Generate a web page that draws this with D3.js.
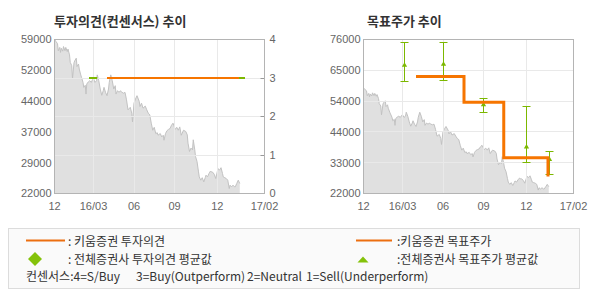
<!DOCTYPE html>
<html>
<head>
<meta charset="utf-8">
<script src="https://cdn.jsdelivr.net/npm/d3@7"></script>
<style>
  body { margin: 0; background: #fff; }
  svg text { font-family: "Liberation Sans", Arial, sans-serif; }
  svg .kr { font-family: "Noto Sans CJK KR", sans-serif; }
</style>
</head>
<body>
<svg id="chart" width="590" height="300"></svg>
<script>
"use strict";

// x is a trading-day index, Dec 2015 -> Feb 2017
const x_ticks = [0, 52, 106, 160, 217, 280];
const x_tick_labels = ["12", "16/03", "06", "09", "12", "17/02"];

const left_price_ticks = [22000, 29400, 36800, 44200, 51600, 59000];
const right_price_ticks = [22000, 32800, 43600, 54400, 65200, 76000];
const opinion_ticks = [0, 1, 2, 3, 4];

// [day, close]
const price = [[0,59000],[2,58500],[4,58000],[5,56300],[7,57100],[8,55900],[9,56900],[11,56200],[12,57300],
  [14,56300],[15,57100],[17,56100],[18,56700],[20,55300],[21,53500],[23,52700],[24,49600],[26,53400],[27,53900],
  [29,54500],[30,52500],[32,53100],[33,51900],[35,50500],[36,49900],[38,48700],[39,47500],[41,48000],[42,45900],
  [43,48300],[45,48800],[47,49100],[49,48700],[50,49100],[52,49600],[54,48700],[56,49100],[57,50500],[59,49100],
  [61,47100],[63,45600],[65,46700],[66,47500],[68,46300],[70,45500],[72,47100],[73,48700],[75,50500],[77,49100],
  [79,47100],[81,47900],[82,45900],[84,46700],[86,46300],[88,46700],[89,46400],[92,46100],[94,46300],[96,44500],
  [98,42100],[101,42700],[103,41300],[104,39200],[106,43700],[108,44700],[110,45500],[113,44100],[114,42900],
  [116,43700],[118,42500],[121,43000],[123,42100],[125,41300],[127,40900],[129,38900],[131,37200],[133,37900],
  [135,36400],[137,36600],[138,36000],[141,36400],[143,35600],[145,36000],[146,34800],[148,36400],[150,37100],
  [152,37400],[154,37600],[156,38400],[158,38900],[161,37400],[163,37900],[165,37200],[167,38000],[169,36000],
  [172,37200],[175,36900],[177,36100],[178,34100],[180,32100],[182,32900],[184,32500],[185,34900],[187,32500],
  [188,30900],[190,29700],[192,27200],[193,26000],[195,25200],[197,25800],[199,24800],[201,25800],[202,26400],
  [204,26000],[206,26800],[208,27400],[209,27200],[211,27100],[213,26600],[215,25600],[217,27200],[218,28000],
  [220,27600],[222,28200],[224,26800],[225,26000],[227,25800],[229,25600],[231,25200],[233,23200],[234,24000],
  [236,23600],[238,24000],[240,23600],[241,23600],[243,24400],[245,25200],[247,24400]];

// Kiwoom opinion (3 = Buy) and consensus average segments
const kiwoom_opinion_days = [70, 246];
const kiwoom_opinion = [3, 3];
const consensus_start = [46, 246];
const consensus_end = [57, 254];
const consensus_opinion = [3, 3];

// target prices
const kiwoom_target_days = [70, 134, 187, 246];
const kiwoom_target = [63000, 54000, 34500, 28000];
const avg_target_days = [54, 106, 160, 217, 248];
const avg_target = [67000, 67300, 53100, 38300, 33900];
const avg_target_high = [75000, 75000, 55200, 52500, 36700];
const avg_target_low = [61400, 61500, 50400, 33000, 28700];

const W = 210, H = 154;
const ORANGE = "#f67500";
const GREEN = "#7cb800";

const svg = d3.select("#chart");

const round_k = v => String(Math.round(v / 1000) * 1000);

const create_panel = function(left, title, title_x, price_ticks){
  const g = svg.append("g").attr("transform", `translate(${left},39.5)`);
  const x = d3.scaleLinear().domain([0, 280]).range([0, W]);
  const y = d3.scaleLinear().domain(d3.extent(price_ticks)).range([H, 0]);

  svg.append("text")
      .attr("class", "kr")
      .attr("x", title_x)
      .attr("y", 26)
      .style("font-size", "13px")
      .style("font-weight", "bold")
      .style("fill", "#333")
      .text(title);

  g.append("path")
      .datum(price)
      .attr("d", d3.area().x(d => x(d[0])).y0(H).y1(d => y(d[1])))
      .style("fill", "#e0e0e0");

  g.append("path")
      .datum(price)
      .attr("d", d3.line().x(d => x(d[0])).y(d => y(d[1])))
      .style("fill", "none")
      .style("stroke", "#c2c2c2")
      .style("stroke-width", 1);

  // vertical grid
  g.selectAll(".vgrid")
      .data(x_ticks.slice(1, -1))
      .enter().append("line")
      .attr("x1", d => Math.round(x(d)))
      .attr("x2", d => Math.round(x(d)))
      .attr("y1", 0)
      .attr("y2", H)
      .style("stroke", "#e9e9e9");

  g.selectAll(".xlab")
      .data(x_ticks)
      .enter().append("text")
      .attr("x", d => x(d))
      .attr("y", H + 16.5)
      .attr("text-anchor", "middle")
      .style("font-size", "11px")
      .style("fill", "#666")
      .text((d, i) => x_tick_labels[i]);

  g.selectAll(".ylab")
      .data(price_ticks)
      .enter().append("text")
      .attr("x", -3)
      .attr("y", d => y(d))
      .attr("dy", "0.36em")
      .attr("text-anchor", "end")
      .style("font-size", "11px")
      .style("fill", "#666")
      .text(d => round_k(d));

  return {g: g, x: x, y: y};
};

const add_frame = function(g){
  g.append("rect")
      .attr("width", W)
      .attr("height", H)
      .style("fill", "none")
      .style("stroke", "#b4b4b4");
};

/* left panel: opinion */
const p1 = create_panel(54.5, "투자의견(컨센서스) 추이", 54, left_price_ticks);
const y_op = d3.scaleLinear().domain([0, 4]).range([H, 0]);

p1.g.selectAll(".hgrid")
    .data(opinion_ticks.slice(1, -1))
    .enter().append("line")
    .attr("x1", 0)
    .attr("x2", W)
    .attr("y1", d => Math.round(y_op(d)))
    .attr("y2", d => Math.round(y_op(d)))
    .style("stroke", "#e9e9e9");

p1.g.selectAll(".optick")
    .data(opinion_ticks)
    .enter().append("line")
    .attr("x1", W - 4)
    .attr("x2", W)
    .attr("y1", d => Math.round(y_op(d)))
    .attr("y2", d => Math.round(y_op(d)))
    .style("stroke", "#999");

p1.g.selectAll(".oplab")
    .data(opinion_ticks)
    .enter().append("text")
    .attr("x", W + 5)
    .attr("y", d => y_op(d))
    .attr("dy", "0.36em")
    .style("font-size", "11px")
    .style("fill", "#666")
    .text(d => d);

p1.g.selectAll(".cons")
    .data(consensus_opinion)
    .enter().append("line")
    .attr("x1", (d, i) => p1.x(consensus_start[i]))
    .attr("x2", (d, i) => p1.x(consensus_end[i]))
    .attr("y1", d => y_op(d))
    .attr("y2", d => y_op(d))
    .style("stroke", GREEN)
    .style("stroke-width", 2);

p1.g.append("path")
    .datum(kiwoom_opinion_days.map((d, i) => [d, kiwoom_opinion[i]]))
    .attr("d", d3.line().x(d => p1.x(d[0])).y(d => y_op(d[1])).curve(d3.curveStepAfter))
    .style("fill", "none")
    .style("stroke", ORANGE)
    .style("stroke-width", 2);

add_frame(p1.g);

/* right panel: target price */
const p2 = create_panel(363.5, "목표주가 추이", 367, right_price_ticks);

p2.g.selectAll(".hgrid")
    .data(right_price_ticks.slice(1, -1))
    .enter().append("line")
    .attr("x1", 0)
    .attr("x2", W)
    .attr("y1", d => Math.round(p2.y(d)))
    .attr("y2", d => Math.round(p2.y(d)))
    .style("stroke", "#e9e9e9");

const bars = p2.g.selectAll(".ebar")
    .data(avg_target)
    .enter().append("g")
    .attr("transform", (d, i) => `translate(${Math.round(p2.x(avg_target_days[i]))},0)`);

bars.append("line")
    .attr("y1", (d, i) => p2.y(avg_target_high[i]))
    .attr("y2", (d, i) => p2.y(avg_target_low[i]))
    .style("stroke", GREEN);
bars.append("line")
    .attr("x1", -4).attr("x2", 4)
    .attr("y1", (d, i) => Math.round(p2.y(avg_target_high[i])))
    .attr("y2", (d, i) => Math.round(p2.y(avg_target_high[i])))
    .style("stroke", GREEN);
bars.append("line")
    .attr("x1", -4).attr("x2", 4)
    .attr("y1", (d, i) => Math.round(p2.y(avg_target_low[i])))
    .attr("y2", (d, i) => Math.round(p2.y(avg_target_low[i])))
    .style("stroke", GREEN);
bars.append("path")
    .attr("d", d3.symbol().type(d3.symbolTriangle).size(12))
    .attr("transform", d => `translate(0,${p2.y(d)})`)
    .style("fill", GREEN);

p2.g.append("path")
    .datum(kiwoom_target_days.map((d, i) => [d, kiwoom_target[i]]))
    .attr("d", d3.line().x(d => p2.x(d[0])).y(d => p2.y(d[1])).curve(d3.curveStepAfter))
    .style("fill", "none")
    .style("stroke", ORANGE)
    .style("stroke-width", 3);

add_frame(p2.g);

/* legend */
const legend = svg.append("g");
legend.append("rect")
    .attr("x", 8.5).attr("y", 228.5)
    .attr("width", 571).attr("height", 60)
    .style("fill", "#fafafa")
    .style("stroke", "#dcdcdc");

const legend_text = function(x, y, t){
  legend.append("text")
      .attr("class", "kr")
      .attr("x", x)
      .attr("y", y)
      .style("font-size", "12px")
      .style("fill", "#333")
      .text(t);
};

legend.append("line")
    .attr("x1", 26).attr("x2", 65).attr("y1", 240.5).attr("y2", 240.5)
    .style("stroke", "#ec6f10").style("stroke-width", 2);
legend_text(68, 246, ": 키움증권 투자의견");
legend.append("path")
    .attr("d", "M35,252 L42,259 L35,266 L28,259 Z")
    .style("fill", "#84c20a");
legend_text(68, 263.5, ": 전체증권사 투자의견 평균값");

legend.append("line")
    .attr("x1", 356).attr("x2", 392).attr("y1", 240.5).attr("y2", 240.5)
    .style("stroke", "#ec6f10").style("stroke-width", 2);
legend_text(397, 246, ":키움증권 목표주가");
legend.append("path")
    .attr("d", "M363,256.5 L368.5,262.5 L357.5,262.5 Z")
    .style("fill", "#84c20a");
legend_text(397, 263.5, ":전체증권사 목표주가 평균값");

legend_text(26, 281, "컨센서스:4=S/Buy");
legend_text(136, 281, "3=Buy(Outperform)");
legend_text(247, 281, "2=Neutral");
legend_text(306, 281, "1=Sell(Underperform)");
</script>
</body>
</html>
